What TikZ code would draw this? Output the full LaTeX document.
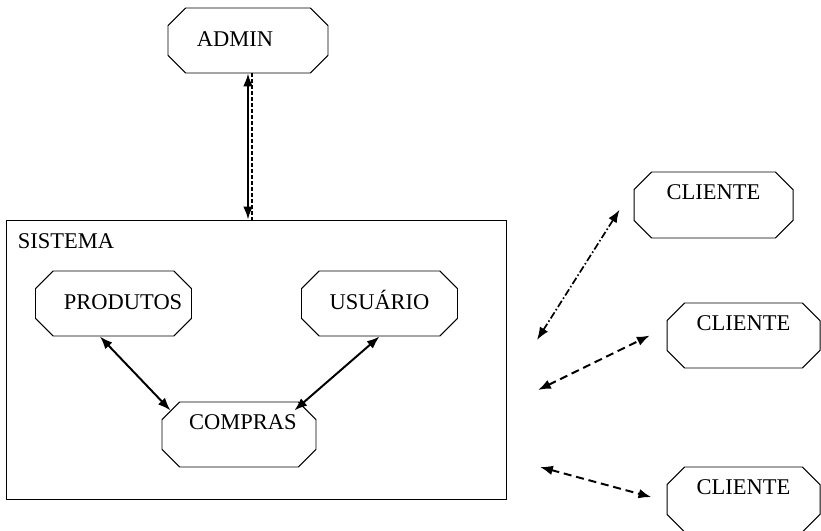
\documentclass[tikz,border=0pt]{standalone}
\usepackage{fontspec}
\setmainfont{Liberation Serif}
\usepackage{tikz}
\usetikzlibrary{arrows.meta,shapes.misc}

\begin{document}
\begin{tikzpicture}[
    every node/.style={font=\fontsize{16}{19}\selectfont},
    modulo/.style={chamfered rectangle, chamfered rectangle xsep=0.22cm, chamfered rectangle ysep=0.22cm, draw=black, line width=0.7pt, inner sep=0pt, minimum width=3.9cm, minimum height=1.625cm, text height=0.4cm, text depth=0.1cm},
    topo/.style={text depth=0.66cm},
    flow/.style={<->, line width=1.4pt, >={Latex[length=0.32cm,width=0.24cm]}},
    link/.style={<->, line width=1.4pt, dash pattern=on 0.2cm off 0.12cm, >={Latex[length=0.32cm,width=0.24cm]}},
    linkdot/.style={<->, line width=1.2pt, dash pattern=on 0.18cm off 0.06cm on 0.04cm off 0.06cm, >={Latex[length=0.32cm,width=0.24cm]}}
]
\useasboundingbox (0,0) rectangle (20.525,13.25);

% Admin
\node[modulo, minimum width=4.0cm] (admin) at (6.2,12.2375) {\hspace*{-0.65cm}ADMIN};

% Sistema box
\node[draw, line width=0.7pt, minimum width=12.5cm, minimum height=6.975cm, inner sep=0pt] (sistema) at (6.4,4.2625) {};
\node[anchor=west, inner sep=0pt] (rotulo) at ([xshift=0.3cm,yshift=-0.55cm]sistema.north west) {SISTEMA};

% Modules inside
\node[modulo] (produtos) at (2.8375,5.6625) {\hspace*{0.48cm}PRODUTOS};
\node[modulo] (usuario) at (9.4875,5.6625) {USUÁRIO};
\node[modulo, topo, minimum width=3.85cm] (compras) at (5.975,2.3875) {\hspace*{0.2cm}COMPRAS};

% Clients
\node[modulo, topo, minimum width=3.975cm, minimum height=1.65cm] (cli1) at (17.8375,8.125) {CLIENTE};
\node[modulo, topo, minimum width=3.825cm] (cli2) at (18.5875,4.8625) {CLIENTE};
\node[modulo, topo, minimum width=3.825cm] (cli3) at (18.5875,0.7625) {CLIENTE};

\coordinate (s1) at (13.425,4.75);
\coordinate (s2) at (13.45,3.5);
\coordinate (s3) at (13.5,1.575);

% Admin connectors
\draw[flow] (admin.south) -- (admin.south |- sistema.north);
\draw[line width=0.9pt, dash pattern=on 0.1cm off 0.05cm] ([xshift=0.1cm]admin.south) -- ([xshift=0.1cm]admin.south |- sistema.north);

% Inner flows
\draw[flow] ([xshift=-0.34cm]produtos.south) -- (compras.north west);
\draw[flow] (usuario.south) -- ([xshift=-0.33cm]compras.north east);

% Client flows
\draw[linkdot] (s1) -- ([xshift=-0.35cm,yshift=-0.12cm]cli1.west);
\draw[link] (s2) -- ([xshift=-0.42cm]cli2.west);
\draw[link] (s3) -- ([xshift=-0.38cm,yshift=0.06cm]cli3.west);

\end{tikzpicture}
\end{document}
